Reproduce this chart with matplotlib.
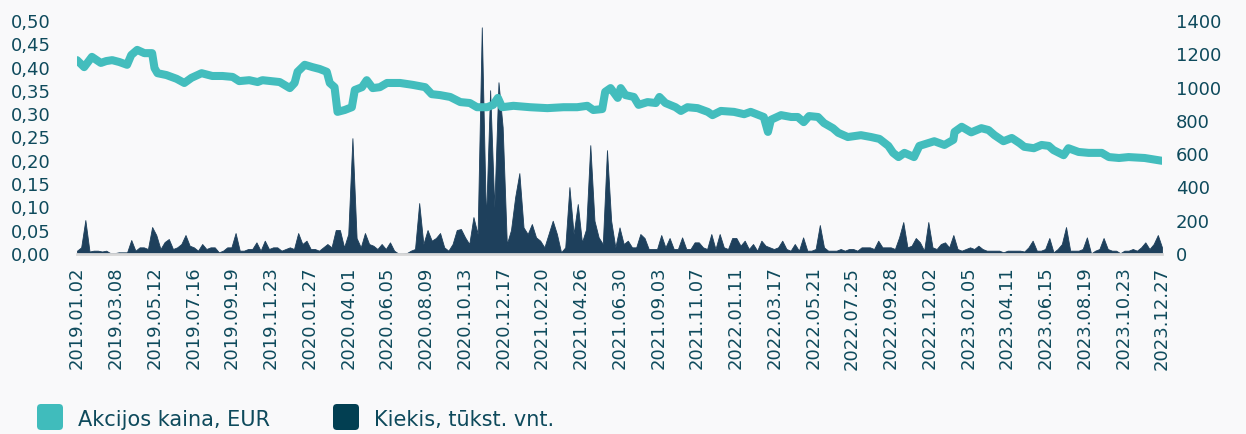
import matplotlib
matplotlib.use('Agg')
import matplotlib.pyplot as plt
import matplotlib.dates as mdates
from matplotlib.patches import FancyBboxPatch
from matplotlib.ticker import FuncFormatter
import pandas as pd

# share price, EUR
price_dates = [
    '2019-01-02', '2019-01-14', '2019-01-27', '2019-02-11', '2019-02-20', '2019-03-02', '2019-03-14',
    '2019-03-27', '2019-04-03', '2019-04-13', '2019-04-25', '2019-05-08', '2019-05-12', '2019-05-17',
    '2019-06-01', '2019-06-18', '2019-07-01', '2019-07-13', '2019-07-30', '2019-08-17', '2019-09-03',
    '2019-09-20', '2019-10-01', '2019-10-18', '2019-11-01', '2019-11-09', '2019-12-08', '2019-12-25',
    '2020-01-02', '2020-01-07', '2020-01-19', '2020-02-01', '2020-02-13', '2020-02-25', '2020-03-01',
    '2020-03-09', '2020-03-14', '2020-03-26', '2020-04-07', '2020-04-12', '2020-04-24', '2020-05-02',
    '2020-05-12', '2020-05-24', '2020-06-05', '2020-06-27', '2020-07-18', '2020-08-08', '2020-08-19',
    '2020-09-02', '2020-09-19', '2020-10-06', '2020-10-22', '2020-11-03', '2020-11-20', '2020-11-30',
    '2020-12-08', '2020-12-15', '2021-01-03', '2021-01-31', '2021-03-01', '2021-03-28', '2021-04-20',
    '2021-05-07', '2021-05-17', '2021-06-01', '2021-06-06', '2021-06-15', '2021-06-27', '2021-07-02',
    '2021-07-10', '2021-07-24', '2021-08-01', '2021-08-16', '2021-08-30', '2021-09-05', '2021-09-15',
    '2021-10-02', '2021-10-11', '2021-10-22', '2021-11-08', '2021-11-25', '2021-12-03', '2021-12-17',
    '2022-01-08', '2022-01-25', '2022-02-05', '2022-02-27', '2022-03-06', '2022-03-11', '2022-03-28',
    '2022-04-14', '2022-04-25', '2022-05-05', '2022-05-14', '2022-05-29', '2022-06-08', '2022-06-23',
    '2022-07-02', '2022-07-18', '2022-08-09', '2022-08-26', '2022-09-09', '2022-09-24', '2022-10-02',
    '2022-10-11', '2022-10-21', '2022-11-06', '2022-11-15', '2022-11-30', '2022-12-10', '2022-12-27',
    '2023-01-11', '2023-01-13', '2023-01-25', '2023-02-10', '2023-02-27', '2023-03-11', '2023-03-21',
    '2023-04-05', '2023-04-19', '2023-05-02', '2023-05-10', '2023-05-26', '2023-06-08', '2023-06-20',
    '2023-06-28', '2023-07-15', '2023-07-23', '2023-08-09', '2023-08-26', '2023-09-17', '2023-09-29',
    '2023-10-16', '2023-11-01', '2023-11-28', '2023-12-27',
]
price = [
    0.416, 0.401, 0.423, 0.410, 0.414, 0.416, 0.412,
    0.406, 0.427, 0.438, 0.431, 0.431, 0.399, 0.388,
    0.384, 0.376, 0.367, 0.378, 0.388, 0.382, 0.382,
    0.380, 0.371, 0.373, 0.369, 0.373, 0.369, 0.356,
    0.367, 0.391, 0.406, 0.401, 0.397, 0.391, 0.367,
    0.358, 0.305, 0.309, 0.315, 0.352, 0.358, 0.373,
    0.356, 0.358, 0.367, 0.367, 0.363, 0.358, 0.343,
    0.341, 0.337, 0.326, 0.324, 0.315, 0.315, 0.320,
    0.335, 0.315, 0.318, 0.315, 0.313, 0.315, 0.315,
    0.318, 0.309, 0.311, 0.348, 0.356, 0.335, 0.356,
    0.341, 0.337, 0.320, 0.326, 0.324, 0.337, 0.324,
    0.315, 0.307, 0.315, 0.313, 0.305, 0.298, 0.307,
    0.305, 0.300, 0.305, 0.294, 0.262, 0.288, 0.298,
    0.294, 0.294, 0.283, 0.296, 0.294, 0.281, 0.270,
    0.260, 0.251, 0.255, 0.251, 0.247, 0.232, 0.217,
    0.208, 0.217, 0.208, 0.232, 0.238, 0.242, 0.234,
    0.245, 0.262, 0.273, 0.261, 0.270, 0.266, 0.255,
    0.242, 0.249, 0.238, 0.230, 0.227, 0.234, 0.232,
    0.223, 0.212, 0.227, 0.219, 0.217, 0.217, 0.208,
    0.206, 0.208, 0.206, 0.200,
]

# traded volume, thousand units, one reading per week starting 2019-01-02
volume_start = '2019-01-02'
volume = [
    20, 40, 204, 15, 20, 20, 15, 20, 5, 5,
    10, 10, 10, 84, 20, 40, 40, 30, 162, 114,
    30, 72, 90, 30, 40, 60, 114, 50, 40, 20,
    60, 30, 40, 40, 10, 20, 40, 40, 126, 20,
    20, 30, 30, 70, 20, 80, 30, 40, 40, 20,
    30, 40, 30, 126, 60, 80, 30, 30, 20, 40,
    60, 40, 144, 144, 40, 120, 696, 96, 40, 126,
    60, 50, 30, 60, 30, 70, 20, 3, 3, 5,
    20, 30, 306, 60, 144, 80, 96, 126, 40, 20,
    60, 144, 150, 100, 60, 222, 120, 1362, 200, 984,
    280, 1032, 762, 60, 144, 342, 486, 160, 120, 180,
    100, 80, 40, 120, 200, 120, 10, 40, 402, 120,
    300, 70, 150, 654, 200, 100, 60, 624, 200, 40,
    160, 60, 80, 40, 40, 120, 96, 30, 30, 30,
    114, 40, 96, 30, 30, 100, 30, 30, 70, 70,
    40, 30, 120, 30, 120, 40, 30, 96, 96, 50,
    80, 30, 60, 20, 80, 50, 40, 30, 40, 80,
    30, 20, 60, 20, 100, 20, 20, 30, 174, 40,
    20, 20, 20, 30, 20, 30, 30, 20, 40, 40,
    40, 30, 80, 40, 40, 40, 30, 100, 192, 40,
    50, 96, 70, 20, 192, 40, 30, 60, 70, 40,
    114, 30, 20, 30, 40, 30, 50, 30, 20, 20,
    20, 20, 10, 20, 20, 20, 20, 15, 40, 80,
    20, 20, 30, 96, 10, 30, 60, 162, 20, 20,
    20, 30, 100, 3, 20, 30, 96, 30, 20, 20,
    5, 20, 20, 30, 20, 40, 70, 30, 60, 114,
    40,
]

price_ticks = [0.0, 0.05, 0.10, 0.15, 0.20, 0.25, 0.30, 0.35, 0.40, 0.45, 0.50]
volume_ticks = [0, 200, 400, 600, 800, 1000, 1200, 1400]
legend_labels = ['Akcijos kaina, EUR', 'Kiekis, tūkst. vnt.']

teal = '#43BDBD'
navy = '#1E405C'
text_col = '#0E4A5C'
bg = '#F9F9FA'

plt.rcParams['font.family'] = ['DejaVu Sans']

price_x = pd.to_datetime(price_dates)
volume_x = pd.date_range(volume_start, periods=len(volume), freq='7D')
tick_dates = pd.date_range('2019-01-02', '2023-12-27', freq='65D')

fig = plt.figure(figsize=(12.46, 4.34), dpi=100, facecolor=bg)
ax = fig.add_axes([77 / 1246, 1 - 254 / 434, (1162 - 77) / 1246, (254 - 21) / 434])
ax2 = ax.twinx()

# volume behind, price on top
ax.set_zorder(ax2.get_zorder() + 1)
ax.patch.set_visible(False)
ax2.set_facecolor(bg)

ax2.fill_between(volume_x, volume, 0, color=navy, lw=0.6, edgecolor=navy)
ax.plot(price_x, price, color=teal, lw=5.8, solid_capstyle='round', solid_joinstyle='round')

ax.set_xlim(tick_dates[0], tick_dates[-1])
ax.set_ylim(0, 0.5)
ax2.set_ylim(0, 1400)

ax.set_yticks(price_ticks)
ax.yaxis.set_major_formatter(FuncFormatter(lambda v, p: f'{v:.2f}'.replace('.', ',')))
ax2.set_yticks(volume_ticks)

ax.set_xticks(tick_dates)
ax.xaxis.set_major_formatter(mdates.DateFormatter('%Y.%m.%d'))
for lab in ax.get_xticklabels():
    lab.set_rotation(90)

ax.tick_params(axis='x', length=0, pad=9, labelsize=13, colors=text_col)
ax.tick_params(axis='y', length=0, pad=19, labelsize=13, colors=text_col)
ax2.tick_params(axis='y', length=0, pad=10, labelsize=13, colors=text_col)

for a in (ax, ax2):
    for s in ['top', 'left', 'right']:
        a.spines[s].set_visible(False)
ax.spines['bottom'].set_color('#D8D8D8')
ax.spines['bottom'].set_linewidth(2)
ax2.spines['bottom'].set_visible(False)

# legend drawn by hand under the dates
for x0, col, label in [(37, '#40BCBC', legend_labels[0]), (333, '#023F52', legend_labels[1])]:
    fig.add_artist(FancyBboxPatch((x0, 4), 26, 26, boxstyle='round,pad=0,rounding_size=4',
                                  transform=None, facecolor=col, edgecolor='none'))
    fig.text((x0 + 41) / 1246, 1 - 420 / 434, label, fontsize=15, color=text_col, va='center')

fig.savefig('out.png', dpi=100, facecolor=bg)
